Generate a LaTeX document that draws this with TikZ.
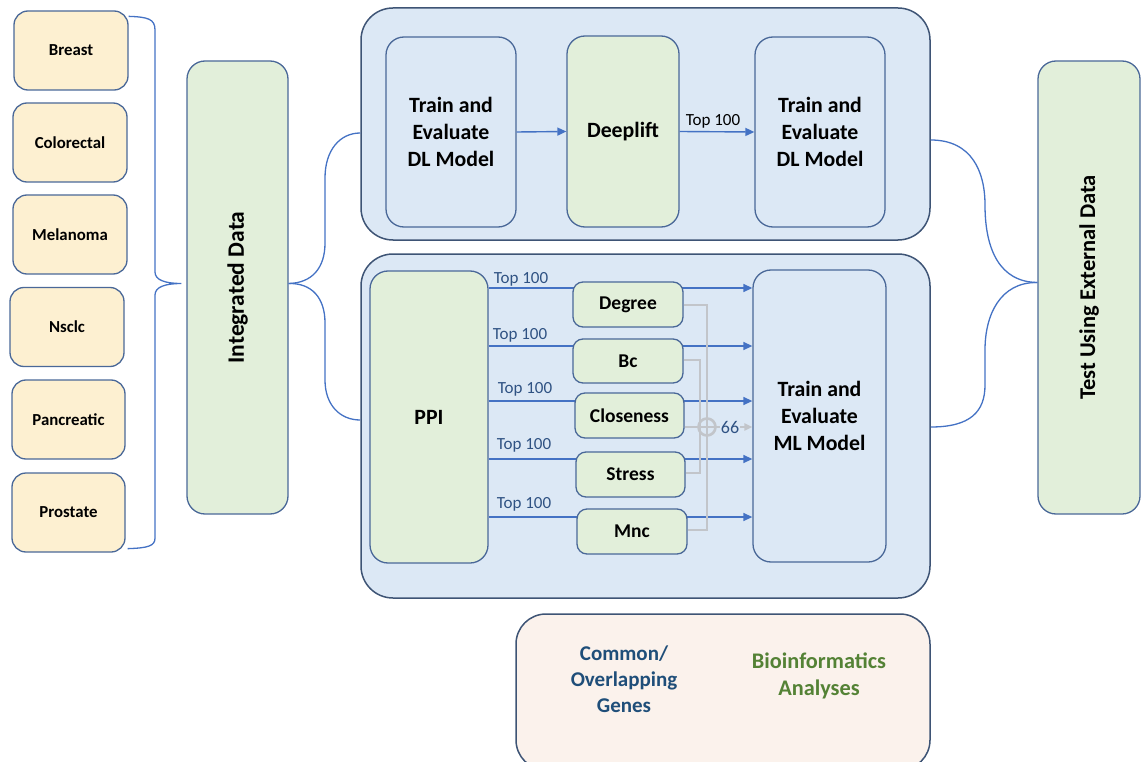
\documentclass[tikz,border=0pt]{standalone}
\usepackage{fontspec}
\setmainfont{Carlito}
\usetikzlibrary{arrows.meta,calc}
\definecolor{bord}{HTML}{4A6898}
\definecolor{outerb}{HTML}{3E5475}
\definecolor{yel}{HTML}{FDF0D1}
\definecolor{grn}{HTML}{E2EFDA}
\definecolor{lblue}{HTML}{DCE8F5}
\definecolor{peach}{HTML}{FBF2EC}
\definecolor{arr}{HTML}{4472C4}
\definecolor{gry}{HTML}{C2C5CA}
\definecolor{dblue}{HTML}{1F4E79}
\definecolor{dgreen}{HTML}{548235}
\definecolor{labc}{HTML}{2F5283}
\begin{document}
\begin{tikzpicture}[x=1pt,y=-1pt,
  box/.style={draw=bord, line width=1.3pt, rounded corners=14pt, align=center, inner sep=0pt},
  cancer/.style={box, fill=yel, minimum width=114pt, minimum height=79pt, font=\bfseries\fontsize{16.8}{20}\selectfont},
  tall/.style={box, rounded corners=18pt, font=\bfseries\fontsize{21.8}{27}\selectfont},
  cent/.style={box, fill=grn, rounded corners=10pt, minimum width=110pt, minimum height=45pt, font=\bfseries\fontsize{19.5}{22}\selectfont},
  big/.style={draw=outerb, line width=1.5pt, fill=lblue, rounded corners=32pt, inner sep=0pt},
  arrowline/.style={draw=arr, line width=1.4pt, -{Triangle[length=9pt,width=8pt]}},
  bracel/.style={draw=arr, line width=1.3pt},
  grayl/.style={draw=gry, line width=2pt},
  toplab/.style={font=\fontsize{17}{20}\selectfont, text=labc, inner sep=1pt}
]
\useasboundingbox (0,0) rectangle (1143,762);

% left column
\node[cancer] (breast) at (71,50.5) {Breast};
\node[cancer] (colo) at (70,142.5) {Colorectal};
\node[cancer] (mela) at (70,234.5) {Melanoma};
\node[cancer] (nsclc) at (67,327) {Nsclc};
\node[cancer, minimum width=113pt] (panc) at (68.5,419.5) {Pancreatic};
\node[cancer, minimum width=113pt] (pros) at (68.5,512.5) {Prostate};

\node[tall, fill=grn, minimum width=101pt, minimum height=453pt] (intd) at (237.5,287.5) {};
\node[rotate=90, font=\bfseries\fontsize{23.5}{28}\selectfont] at (intd.center) {Integrated Data};

\draw[bracel] ([yshift=-6pt]breast.north east) .. controls (148,17) and (155,19) .. (155,30)
  -- (155,272) .. controls (155,280) and (165,283.5) .. ([xshift=-5pt,yshift=4pt]intd.west)
  .. controls (165,283.5) and (155,287) .. (155,295)
  -- (155,538) .. controls (155,546) and (148,548) .. ([xshift=2pt,yshift=4pt]pros.south east);

% big containers
\node[big, minimum width=569pt, minimum height=232pt] (top) at (645.5,124) {};
\node[big, minimum width=569pt, minimum height=344pt] (bot) at (645.5,426) {};

% top row
\node[tall, fill=lblue, minimum width=130pt, minimum height=190pt] (trainA) at (451,132) {Train and\\Evaluate\\DL Model};
\node[tall, fill=grn, minimum width=112pt, minimum height=191pt] (deep) at (623,131.5) {Deeplift};
\node[tall, fill=lblue, minimum width=130pt, minimum height=190pt] (trainB) at (820,132) {Train and\\Evaluate\\DL Model};
\draw[arrowline] (trainA.east) -- (deep.west);
\draw[arrowline] (deep.east) -- node[above, font=\fontsize{17}{20}\selectfont, inner sep=3pt, xshift=-4pt] {Top 100} (trainB.west);

% bottom row
\node[tall, fill=grn, minimum width=118pt, minimum height=292pt] (ppi) at (429,417) {PPI};
\node[tall, fill=lblue, minimum width=133pt, minimum height=292pt] (ml) at (819.5,416) {Train and\\Evaluate\\ML Model};

\draw[arrowline] (ppi.east |- 0,288) -- (ml.west |- 0,288);
\draw[arrowline] (ppi.east |- 0,346) -- (ml.west |- 0,346);
\draw[arrowline] (ppi.east |- 0,401) -- (ml.west |- 0,401);
\draw[arrowline] (ppi.east |- 0,459) -- (ml.west |- 0,459);
\draw[arrowline] (ppi.east |- 0,517) -- (ml.west |- 0,517);
\node[toplab] at (521,279) {Top 100};
\node[toplab] at (520,335) {Top 100};
\node[toplab] at (525,389) {Top 100};
\node[toplab] at (524,445) {Top 100};
\node[toplab] at (524,504) {Top 100};

\node[cent] (degree) at (628,304.5) {Degree};
\node[cent, minimum height=44pt] (bc) at (628,361) {Bc};
\node[cent, minimum width=109pt] (close) at (629.5,415.5) {Closeness};
\node[cent, minimum width=109pt] (stress) at (630.5,474.5) {Stress};
\node[cent] (mnc) at (632,531.5) {Mnc};

% gray union
\draw[grayl] (degree.east |- 0,305) -- (707,305) -- (707,530) -- (mnc.east |- 0,530);
\draw[grayl] (bc.east |- 0,360) -- (700,360) -- (700,473) -- (stress.east |- 0,473);
\node[circle, draw=gry, line width=2.6pt, minimum size=17pt, inner sep=0pt] (plus) at (707,427) {};
\draw[grayl, line width=2.6pt] (plus.north) -- (plus.south) (plus.west) -- (plus.east);
\draw[grayl] (close.east |- 0,427) -- (plus.west);
\draw[grayl, -{Triangle[length=8pt,width=7pt]}] (plus.east) -- (ml.west |- plus.east);
\node[fill=lblue, inner sep=1pt, font=\fontsize{18}{21}\selectfont, text=labc] (n66) at (730,427) {66};

% right side
\node[tall, fill=grn, minimum width=102pt, minimum height=453pt] (test) at (1089,287.5) {};
\node[rotate=90, font=\bfseries\fontsize{22.5}{27}\selectfont] at (test.center) {Test Using External Data};

\draw[bracel] ([yshift=4pt]intd.east) .. controls (312,283) and (325,268) .. (325,243)
  -- (325,178) .. controls (325,150) and (340,133) .. (top.west |- 0,133);
\draw[bracel] ([yshift=4pt]intd.east) .. controls (312,283) and (325,298) .. (325,323)
  -- (325,380) .. controls (325,405) and (340,420) .. (bot.west |- 0,420);

\draw[bracel] (top.east |- 0,140) .. controls (972,140) and (985,172) .. (985,205)
  .. controls (985,250) and (1000,282) .. ([yshift=5pt]test.west);
\draw[bracel] ([yshift=5pt]test.west) .. controls (1000,282) and (985,315) .. (985,350)
  -- (985,385) .. controls (985,412) and (970,427) .. (bot.east |- 0,427);

% bottom box
\node[draw=outerb, line width=1.5pt, fill=peach, rounded corners=30pt, minimum width=414pt, minimum height=156pt] (res) at (723,692) {};
\node[font=\bfseries\fontsize{21}{26}\selectfont, text=dblue, align=center] (common) at (624,679) {Common/\\Overlapping\\Genes};
\node[font=\bfseries\fontsize{22.3}{27}\selectfont, text=dgreen, align=center] (bioinf) at (819,676) {Bioinformatics\\Analyses};
\end{tikzpicture}
\end{document}
